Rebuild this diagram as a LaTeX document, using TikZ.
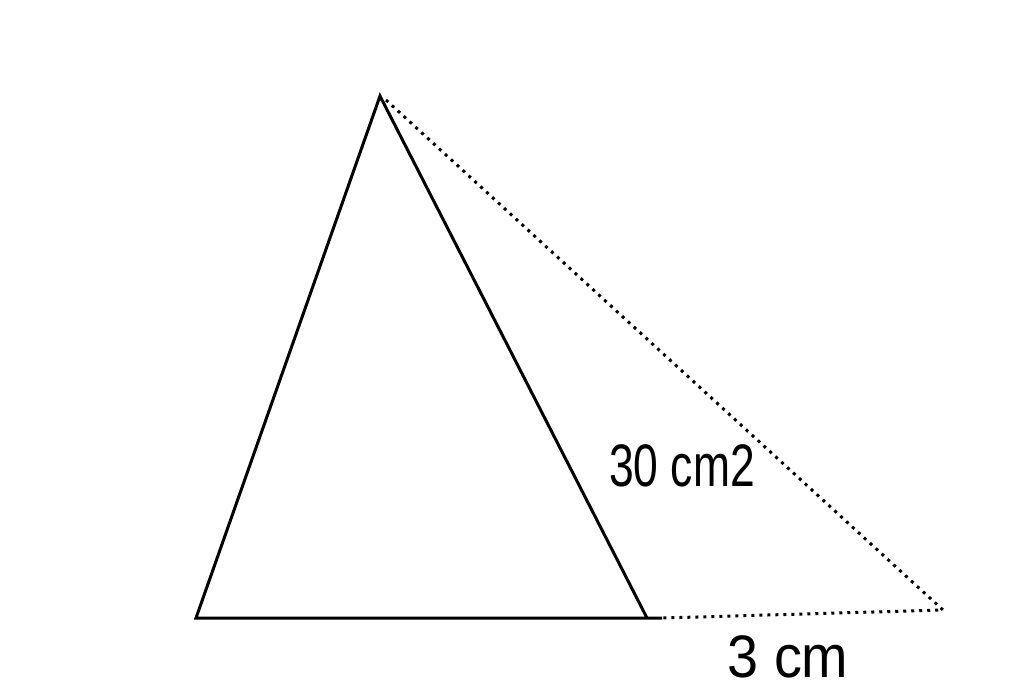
\documentclass[tikz,border=0pt]{standalone}
\usepackage{fontspec}
\setmainfont{Liberation Sans}
\begin{document}
\begin{tikzpicture}[x=1pt,y=-1pt,
  solidline/.style={line width=3pt,line join=miter},
  dotline/.style={line width=3pt,dash pattern=on 3pt off 5pt},
  lbl/.style={inner sep=0pt,font=\fontsize{60}{60}\selectfont}]
\useasboundingbox (0,0) rectangle (1024,694);
\coordinate (A) at (380,96);
\coordinate (B) at (196,618);
\coordinate (C) at (647,618);
\coordinate (Ce) at (662,618);
\coordinate (D) at (943,610);
\draw[solidline] (C) -- (A) -- (B) -- (Ce);
\draw[dotline] (A) ++(6,4) -- (D) -- (Ce);
\node[lbl,xscale=0.74] (area) at (682,466) {30 cm2};
\node[lbl,xscale=0.93] (base) at (788,657) {3 cm};
\end{tikzpicture}
\end{document}
